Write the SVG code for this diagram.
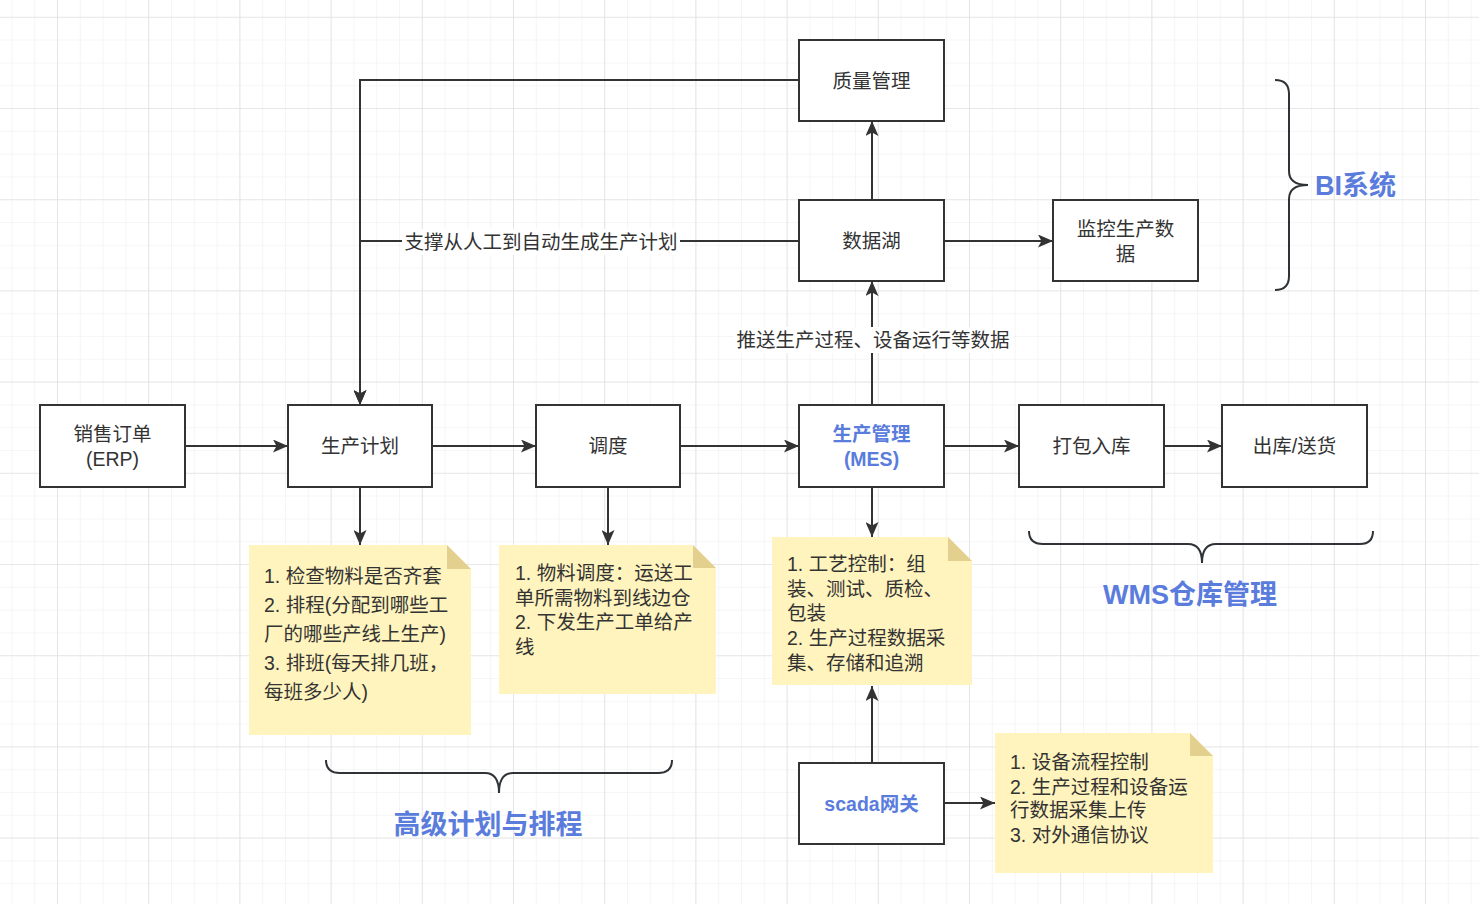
<svg xmlns="http://www.w3.org/2000/svg" width="1479" height="904" viewBox="0 0 1479 904">
  <defs>
    <pattern id="minor" x="11.4" y="16.8" width="22.8" height="22.8" patternUnits="userSpaceOnUse">
      <path d="M22.8 0 L0 0 0 22.8" fill="none" stroke="#eeeeee" stroke-width="1.2"/>
    </pattern>
    <pattern id="major" x="57" y="16.8" width="91.2" height="91.2" patternUnits="userSpaceOnUse">
      <path d="M91.2 0 L0 0 0 91.2" fill="none" stroke="#e2e2e2" stroke-width="1.6"/>
    </pattern>
    <marker id="arr" markerUnits="userSpaceOnUse" markerWidth="15" markerHeight="13" refX="15" refY="6.5" orient="auto">
      <path d="M0,0 L15,6.5 L0,13 L3.5,6.5 Z" fill="#333333"/>
    </marker>
    <style>
      .box { fill: #ffffff; stroke: #333333; stroke-width: 2; }
      .t { font-family: "Liberation Sans", "Noto Sans CJK SC", sans-serif; font-size: 19.5px; fill: #333333; }
      .c { text-anchor: middle; }
      .blue { fill: #5a7cdc; font-weight: bold; }
      .big { font-size: 27px; }
      .note { fill: #fff4bd; }
      .fold { fill: #e3d08f; }
      .edge { fill: none; stroke: #333333; stroke-width: 2; }
      .brace { fill: none; stroke: #2f3337; stroke-width: 2; }
    </style>
  </defs>

  <rect width="1479" height="904" fill="#ffffff"/>
  <rect width="1479" height="904" fill="url(#minor)"/>
  <rect width="1479" height="904" fill="url(#major)"/>

  <g id="connectors">
    <path class="edge" d="M185 446 H288" marker-end="url(#arr)"/>
    <path class="edge" d="M432 446 H536" marker-end="url(#arr)"/>
    <path class="edge" d="M680 446 H799" marker-end="url(#arr)"/>
    <path class="edge" d="M944 446 H1019" marker-end="url(#arr)"/>
    <path class="edge" d="M1164 446 H1222" marker-end="url(#arr)"/>
    <path class="edge" d="M360 487 V545" marker-end="url(#arr)"/>
    <path class="edge" d="M608 487 V545" marker-end="url(#arr)"/>
    <path class="edge" d="M872 487 V537" marker-end="url(#arr)"/>
    <path class="edge" d="M872 763 V686" marker-end="url(#arr)"/>
    <path class="edge" d="M944 803 H995" marker-end="url(#arr)"/>
    <path class="edge" d="M872 405 V281" marker-end="url(#arr)"/>
    <path class="edge" d="M872 200 V121" marker-end="url(#arr)"/>
    <path class="edge" d="M944 241 H1053" marker-end="url(#arr)"/>
    <path class="edge" d="M799 80 H360 V405" marker-end="url(#arr)"/>
    <path class="edge" d="M799 241 H360 V405" marker-end="url(#arr)"/>
    <rect x="402" y="229" width="278" height="26" fill="#ffffff"/>
    <text class="t c" x="541" y="249">支撑从人工到自动生成生产计划</text>
    <rect x="734" y="327" width="279" height="26" fill="#ffffff"/>
    <text class="t c" x="873" y="347">推送生产过程、设备运行等数据</text>
  </g>

  <g id="erp">
    <rect class="box" x="40" y="405" width="145" height="82"/>
    <text class="t c" x="112.5" y="441">销售订单</text>
    <text class="t c" x="112.5" y="466">(ERP)</text>
  </g>
  <g id="plan">
    <rect class="box" x="288" y="405" width="144" height="82"/>
    <text class="t c" x="360" y="453">生产计划</text>
  </g>
  <g id="dispatch">
    <rect class="box" x="536" y="405" width="144" height="82"/>
    <text class="t c" x="608" y="453">调度</text>
  </g>
  <g id="mes">
    <rect class="box" x="799" y="405" width="145" height="82"/>
    <text class="t c blue" x="871.5" y="441">生产管理</text>
    <text class="t c blue" x="871.5" y="466">(MES)</text>
  </g>
  <g id="pack">
    <rect class="box" x="1019" y="405" width="145" height="82"/>
    <text class="t c" x="1091.5" y="453">打包入库</text>
  </g>
  <g id="ship">
    <rect class="box" x="1222" y="405" width="145" height="82"/>
    <text class="t c" x="1294.5" y="453">出库/送货</text>
  </g>
  <g id="quality">
    <rect class="box" x="799" y="40" width="145" height="81"/>
    <text class="t c" x="871.5" y="88">质量管理</text>
  </g>
  <g id="datalake">
    <rect class="box" x="799" y="200" width="145" height="81"/>
    <text class="t c" x="871.5" y="248">数据湖</text>
  </g>
  <g id="monitor">
    <rect class="box" x="1053" y="200" width="145" height="81"/>
    <text class="t c" x="1125.5" y="236">监控生产数</text>
    <text class="t c" x="1125.5" y="261">据</text>
  </g>
  <g id="scada">
    <rect class="box" x="799" y="763" width="145" height="81"/>
    <text class="t c blue" x="871.5" y="811">scada网关</text>
  </g>

  <g id="note-plan">
    <path class="note" d="M249 545 H447 L471 569 V735 H249 Z"/>
    <path class="fold" d="M447 545 V569 H471 Z"/>
    <text class="t" x="264" y="583">1. 检查物料是否齐套</text>
    <text class="t" x="264" y="612">2. 排程(分配到哪些工</text>
    <text class="t" x="264" y="641">厂的哪些产线上生产)</text>
    <text class="t" x="264" y="670">3. 排班(每天排几班，</text>
    <text class="t" x="264" y="699">每班多少人)</text>
  </g>
  <g id="note-dispatch">
    <path class="note" d="M499 545 H693 L716 568 V694 H499 Z"/>
    <path class="fold" d="M693 545 V568 H716 Z"/>
    <text class="t" x="515" y="580">1. 物料调度：运送工</text>
    <text class="t" x="515" y="605">单所需物料到线边仓</text>
    <text class="t" x="515" y="629">2. 下发生产工单给产</text>
    <text class="t" x="515" y="654">线</text>
  </g>
  <g id="note-mes">
    <path class="note" d="M772 537 H948 L972 561 V685 H772 Z"/>
    <path class="fold" d="M948 537 V561 H972 Z"/>
    <text class="t" x="787" y="571">1. 工艺控制：组</text>
    <text class="t" x="787" y="596">装、测试、质检、</text>
    <text class="t" x="787" y="620">包装</text>
    <text class="t" x="787" y="645">2. 生产过程数据采</text>
    <text class="t" x="787" y="670">集、存储和追溯</text>
  </g>
  <g id="note-scada">
    <path class="note" d="M995 733 H1190 L1213 756 V873 H995 Z"/>
    <path class="fold" d="M1190 733 V756 H1213 Z"/>
    <text class="t" x="1010" y="769">1. 设备流程控制</text>
    <text class="t" x="1010" y="794">2. 生产过程和设备运</text>
    <text class="t" x="1010" y="817">行数据采集上传</text>
    <text class="t" x="1010" y="842">3. 对外通信协议</text>
  </g>

  <g id="bi-group">
    <path class="brace" d="M1275 80 Q1289 80 1289 94 V171 Q1289 185 1308 185 Q1289 185 1289 199 V276 Q1289 290 1275 290"/>
    <text class="t blue big" x="1315" y="195">BI系统</text>
  </g>
  <g id="wms-group">
    <path class="brace" d="M1029 531 Q1029 544 1043 544 H1188 Q1202 544 1202 563 Q1202 544 1216 544 H1360 Q1373 544 1373 531"/>
    <text class="t c blue big" x="1190" y="604">WMS仓库管理</text>
  </g>
  <g id="aps-group">
    <path class="brace" d="M326 760 Q326 773 340 773 H485 Q499 773 499 793 Q499 773 513 773 H658 Q672 773 672 760"/>
    <text class="t c blue big" x="488" y="834">高级计划与排程</text>
  </g>
</svg>
